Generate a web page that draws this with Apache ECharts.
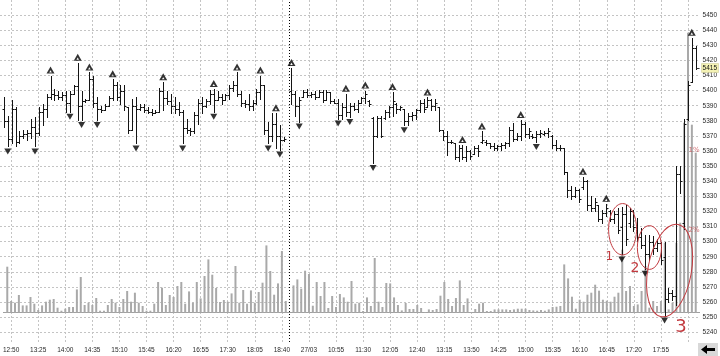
<!DOCTYPE html>
<html><head><meta charset="utf-8">
<script src="https://cdn.jsdelivr.net/npm/echarts/dist/echarts.min.js"></script>
<style>html,body{margin:0;padding:0;background:#fff;}#c{width:720px;height:356px;}</style>
</head><body><div id="c"></div>
<script>
// ---- categories (5-minute bars, two sessions) ----
const day1Times = ['12:45','12:50','12:55','13:00','13:05','13:10','13:15','13:20','13:25','13:30','13:35','13:40','13:45','13:50','13:55','14:00','14:05','14:10','14:15','14:20','14:25','14:30','14:35','14:40','14:45','14:50','14:55','15:00','15:05','15:10','15:15','15:20','15:25','15:30','15:35','15:40','15:45','15:50','15:55','16:00','16:05','16:10','16:15','16:20','16:25','16:30','16:35','16:40','16:45','16:50','16:55','17:00','17:05','17:10','17:15','17:20','17:25','17:30','17:35','17:40','17:45','17:50','17:55','18:00','18:05','18:10','18:15','18:20','18:25','18:30','18:35','18:40','18:45'];
const day2Times = ['10:00','10:05','10:10','10:15','10:20','10:25','10:30','10:35','10:40','10:45','10:50','10:55','11:00','11:05','11:10','11:15','11:20','11:25','11:30','11:35','11:40','11:45','11:50','11:55','12:00','12:05','12:10','12:15','12:20','12:25','12:30','12:35','12:40','12:45','12:50','12:55','13:00','13:05','13:10','13:15','13:20','13:25','13:30','13:35','13:40','13:45','13:50','13:55','14:00','14:05','14:10','14:15','14:20','14:25','14:30','14:35','14:40','14:45','14:50','14:55','15:00','15:05','15:10','15:15','15:20','15:25','15:30','15:35','15:40','15:45','15:50','15:55','16:00','16:05','16:10','16:15','16:20','16:25','16:30','16:35','16:40','16:45','16:50','16:55','17:00','17:05','17:10','17:15','17:20','17:25','17:30','17:35','17:40','17:45','17:50','17:55','18:00','18:05','18:10','18:15','18:20','18:25','18:30','18:35','18:40','18:45'];
const tickLabels = ['12:50','13:25','14:00','14:35','15:10','15:45','16:20','16:55','17:30','18:05','18:40','27/03','10:55','11:30','12:05','12:40','13:15','13:50','14:25','15:00','15:35','16:10','16:45','17:20','17:55'];
const priceTicks = {min: 5230, max: 5460, step: 10};

// ---- bar values (bar 73 is the overnight gap) ----
const opens = [5388,5380,5368,5388,5366,5370,5371,5372,5376,5372,5386,5388,5396,5398,5397,5396,5397,5392,5398,5403,5390,5393,5394,5408,5392,5388,5387,5390,5395,5404,5396,5400,5389,5374,5390,5388,5389,5387,5386,5385,5386,5400,5395,5393,5390,5388,5386,5375,5374,5373,5384,5392,5390,5393,5398,5394,5396,5394,5397,5402,5404,5398,5392,5391,5390,5392,5399,5404,5374,5370,5378,5370,5367,null,
5400,5398,5390,5396,5399,5397,5398,5396,5399,5394,5399,5393,5392,5384,5389,5386,5390,5388,5392,5395,5393,5382,5370,5382,5382,5386,5389,5391,5388,5388,5380,5383,5384,5387,5392,5389,5394,5390,5389,5374,5370,5366,5365,5356,5362,5356,5360,5358,5362,5366,5366,5365,5363,5362,5363,5364,5365,5374,5368,5370,5378,5371,5370,5369,5371,5371,5372,5370,5364,5362,5362,5346,5334,5330,5334,5336,5340,5324,5322,5324,5315,5319,5320,5315,5318,5310,5318,5312,5320,5310,5303,5298,5292,5300,5296,5299,5290,5262,5266,5264,5345,5312,5381,5406,5428];
const highs = [5396,5383,5393.5,5389,5373,5374,5374,5381.5,5382.5,5389,5391,5398,5410,5401,5400,5399,5400,5400,5404,5418.5,5400,5394.5,5412,5410,5395.5,5390,5391,5396.5,5407.5,5405.5,5404,5404,5389,5394.5,5395.5,5391,5391,5389,5388,5387,5402,5405.5,5400,5398,5395.5,5392.5,5387,5381.5,5375,5386,5394.5,5395.5,5394.5,5400.5,5401,5400,5398,5398,5404,5406.5,5412,5400,5393.5,5398,5393.5,5401,5410,5404,5379.5,5385,5385,5377,5369.5,null,
5415,5400,5395.5,5400.5,5401,5399,5400,5400.5,5400.5,5400.5,5399,5394.5,5394.5,5391.5,5398,5391.5,5391.5,5393.5,5395.5,5400,5393.5,5382.5,5383.5,5383.5,5387,5390,5399,5391.5,5390,5388,5385,5386,5388,5393.5,5394.5,5395.5,5394.5,5394.5,5389,5374,5373,5367.5,5365,5364,5364,5363,5361,5363,5364,5373,5367.5,5365,5365,5364,5365,5366,5376,5378.5,5372,5380.5,5379.5,5375,5371.5,5373,5374,5373,5375,5370.5,5367.5,5364,5362,5346,5337,5336,5335,5343,5341,5330,5329,5324.5,5321,5325,5321,5320,5322,5323,5324,5322,5321,5315.5,5309,5304.5,5304.5,5303.5,5301.5,5299.5,5300,5269,5268,5350,5350,5381.5,5406.5,5435,5429.5];
const lows = [5376,5363,5365,5363,5365,5368.5,5367.5,5368.5,5363,5370.5,5377,5382.5,5394.5,5393.5,5394.5,5393.5,5386,5386,5398,5380.5,5380.5,5392.5,5393.5,5389,5380.5,5386,5387,5390,5393.5,5393.5,5391,5387,5372,5374,5365,5387,5386,5385,5384,5385,5386,5387,5391,5385,5385,5384,5365,5372,5370.5,5372,5378,5385,5389,5391,5386,5393.5,5391,5393.5,5394.5,5400,5396.5,5390,5389,5387,5387,5391,5394.5,5371.5,5365,5366.5,5362,5361,5366.5,null,
5391,5383,5379.5,5395.5,5395.5,5395.5,5394.5,5395.5,5392.5,5394,5391.5,5391.5,5381.5,5381.5,5383.5,5382.5,5387,5386,5391.5,5391.5,5390,5352,5369.5,5369.5,5381.5,5382.5,5383.5,5385,5387,5377,5377,5380.5,5381.5,5386,5386,5389,5387,5387,5373,5367.5,5357.5,5365,5354.5,5353.5,5354.5,5353.5,5354.5,5358,5356.5,5365,5364,5362,5361,5361,5361,5362,5363,5366.5,5367.5,5367.5,5369.5,5368.5,5368.5,5366,5369.5,5370.5,5369.5,5362,5361,5361,5344.5,5329.5,5328.5,5329.5,5326,5335,5321,5320,5320,5313.5,5312.5,5317,5313.5,5312.5,5306,5291.5,5298,5310,5307,5300.5,5296,5282,5287.5,5291.5,5294,5285,5251,5260,5261.5,5258,5332,5308.5,5380.5,5405.5,5414];
const closes = [5380,5368,5388,5366,5370,5371,5372,5376,5372,5386,5388,5396,5398,5397,5396,5397,5392,5398,5403,5390,5393,5394,5408,5392,5388,5387,5390,5395,5404,5396,5400,5390,5374,5390,5388,5389,5387,5386,5385,5386,5400,5395,5393,5390,5388,5386,5375,5374,5373,5384,5392,5390,5393,5398,5394,5396,5394,5397,5402,5404,5398,5392,5391,5390,5392,5399,5404,5374,5370,5378,5370,5367,5368,null,
5398,5390,5394,5399,5397,5398,5396,5399,5394,5399,5393,5392,5384,5389,5386,5390,5388,5392,5395,5398,5391,5370,5382,5370,5386,5389,5393,5388,5389,5380,5383,5384,5387,5392,5388,5394,5390,5392,5374,5370,5366,5366,5356,5362,5356,5360,5357,5362,5360,5367,5365,5363,5362,5363,5364,5365,5374,5368,5370,5378,5371,5373,5369,5371,5372,5372,5373,5364,5362,5362,5346,5334,5330,5334,5328,5340,5324,5322,5326,5315,5319,5322,5315,5318,5308,5318,5302,5320,5310,5303,5298,5292,5300,5296,5299,5288,5262,5266,5264,5345,5340,5378,5404,5428,5415];
const volumes = [460,117,100,177,73,73,157,90,27,73,110,130,137,50,20,40,57,57,233,357,77,100,77,147,20,20,77,137,100,57,137,217,110,200,100,67,20,20,90,307,250,77,177,157,267,307,90,213,100,307,143,367,533,380,247,107,127,110,193,467,100,227,90,223,100,207,300,673,417,180,293,617,117,null,
273,333,240,420,387,70,307,167,307,47,167,57,187,153,110,317,90,100,17,153,67,547,110,57,297,293,153,77,23,97,37,37,77,47,7,33,27,37,170,307,137,67,147,323,77,143,7,37,90,100,17,17,33,33,33,33,27,33,40,40,40,27,23,20,27,20,33,57,60,67,483,343,160,40,130,110,180,200,280,220,130,120,110,160,200,630,217,267,67,83,217,467,50,117,67,117,700,33,100,700,900,1900,2800,1880,1600];
const upFractals = [12,19,22,28,41,54,60,66,70,74,88,93,100,109,118,123,133,149,155,177];
const downFractals = [1,8,17,20,24,34,46,54,68,71,76,86,89,95,103,137,159,165,170];
const daySeparators = [74];
const lastPrice = 5415;
// hand-drawn notes: [category position, price, half width (bars), half height (points), tilt]
const noteRings = [[160.2,5308.2,3.6,17,0],[167.1,5296.1,3.1,14.5,0],[172.3,5280.8,5.6,31,-0.18]];
const noteTexts = [['1',156.8,5290],['2',163.4,5282],['3',175.2,5243],['1%',178.6,5360.6],['2%',178.6,5307.8]];

// ---- assembly ----
const categories = [''].concat(day1Times, [' '], day2Times);
const ohlc = [];
for (let i = 0; i < highs.length; i++) {
  if (highs[i] != null) ohlc.push([i + 1, opens[i], highs[i], lows[i], closes[i]]);
}
const volData = categories.map((_, k) => (k >= 1 && k - 1 < volumes.length && volumes[k - 1] != null) ? volumes[k - 1] : null);
const upMarks = upFractals.map(i => [i + 1, highs[i]]);
const downMarks = downFractals.map(i => [i + 1, lows[i]]);
const lastIdx = closes.length;

const nTicks = Math.round((priceTicks.max - priceTicks.min) / priceTicks.step) + 1;
const gridColors = [];
for (let k = 0; k < nTicks; k++) gridColors.push(k === 0 || k === nTicks - 1 ? 'rgba(0,0,0,0)' : '#c4c4c4');

const FONT = 'Liberation Sans';
const RED = '#c23a3f';

function fracX(api, v, p) {
  const b = Math.floor(v);
  const bw = api.size([1, 1])[0];
  const pt = api.coord([b, p]);
  return [pt[0] + (v - b) * bw, pt[1]];
}

const chart = echarts.init(document.getElementById('c'), null, {renderer: 'canvas', width: 720, height: 356});
chart.setOption({
  animation: false,
  backgroundColor: '#ffffff',
  grid: [
    {left: 0, right: 20.4, top: -5.33, bottom: 8.67},
    {left: 0, right: 20.4, top: 0, bottom: 14}
  ],
  xAxis: [
    {type: 'category', gridIndex: 0, data: categories, boundaryGap: false, show: false},
    {type: 'category', gridIndex: 1, data: categories, boundaryGap: false,
      axisLine: {show: true, lineStyle: {color: '#a0a0a0', width: 1}},
      axisTick: {show: false},
      axisLabel: {interval: (i) => i % 7 === 2, margin: 5, fontSize: 6.5, fontFamily: FONT, color: '#2a2a2a',
        formatter: (v, i) => { const k = (i - 2) / 7; return tickLabels[k] || ''; }},
      splitLine: {show: true, interval: (i) => i % 7 === 2, lineStyle: {color: '#c4c4c4', type: [2, 2], width: 1}}
    }
  ],
  yAxis: [
    {type: 'value', gridIndex: 0, position: 'right', min: priceTicks.min, max: priceTicks.max, interval: priceTicks.step,
      axisLine: {show: false}, axisTick: {show: false},
      axisLabel: {margin: 3, fontSize: 6.5, fontFamily: FONT, color: '#2a2a2a', showMinLabel: false, showMaxLabel: false,
        formatter: (v) => String(v)},
      splitLine: {show: true, lineStyle: {color: gridColors, type: [2, 2], width: 1}}},
    {type: 'value', gridIndex: 1, min: -293, max: 3127, show: false, splitLine: {show: false}}
  ],
  series: [
    {type: 'bar', xAxisIndex: 1, yAxisIndex: 1, data: volData, barWidth: 2, z: 1,
      itemStyle: {color: '#a9a9a9'}, silent: true,
      markLine: {silent: true, symbol: 'none', label: {show: false}, lineStyle: {color: '#000', type: [1, 2], width: 1},
        data: daySeparators.map(k => ({xAxis: k}))}},
    {type: 'custom', xAxisIndex: 0, yAxisIndex: 0, z: 4, data: ohlc, encode: {x: 0, y: [1, 2, 3, 4]},
      renderItem: function (params, api) {
        const x = api.value(0);
        const h = api.coord([x, api.value(2)]);
        const l = api.coord([x, api.value(3)]);
        const o = api.coord([x, api.value(1)]);
        const c = api.coord([x, api.value(4)]);
        const cx = Math.round(h[0]) + 0.5;
        const st = {stroke: '#141414', lineWidth: 1};
        return {type: 'group', children: [
          {type: 'line', shape: {x1: cx, y1: Math.round(h[1]), x2: cx, y2: Math.round(l[1]) + 1}, style: st},
          {type: 'line', shape: {x1: cx - 2, y1: Math.round(o[1]) + 0.5, x2: cx, y2: Math.round(o[1]) + 0.5}, style: st},
          {type: 'line', shape: {x1: cx, y1: Math.round(c[1]) + 0.5, x2: cx + 2, y2: Math.round(c[1]) + 0.5}, style: st}
        ]};
      }},
    {type: 'scatter', xAxisIndex: 0, yAxisIndex: 0, z: 5, data: upMarks,
      symbol: 'path://M5,0 L10,10 L0,10 Z M5,5.5 L3.4,8.6 L6.6,8.6 Z', symbolSize: [8, 7], symbolOffset: [0, -5.5],
      itemStyle: {color: '#000'}},
    {type: 'scatter', xAxisIndex: 0, yAxisIndex: 0, z: 5, data: downMarks,
      symbol: 'path://M0,0 L10,0 L5,9 Z', symbolSize: [7, 6], symbolOffset: [0, 5],
      itemStyle: {color: '#000'}},
    {type: 'custom', xAxisIndex: 0, yAxisIndex: 0, z: 6, data: noteRings, silent: true,
      renderItem: function (params, api) {
        const c = fracX(api, api.value(0), api.value(1));
        const bw = api.size([1, 1])[0];
        const ry = api.size([0, api.value(3) * 2])[1] / 2;
        return {type: 'ellipse', x: c[0], y: c[1], rotation: api.value(4),
          shape: {cx: 0, cy: 0, rx: api.value(2) * bw, ry: ry},
          style: {fill: 'none', stroke: RED, lineWidth: 1}};
      }},
    {type: 'custom', xAxisIndex: 0, yAxisIndex: 0, z: 6, silent: true,
      data: noteTexts.map(t => [t[1], t[2]]),
      renderItem: function (params, api) {
        const t = noteTexts[params.dataIndex];
        const c = fracX(api, t[1], t[2]);
        const big = {'1': 12, '2': 14, '3': 18};
        const fs = big[t[0]] || 7;
        return {type: 'text', x: c[0], y: c[1],
          style: {text: t[0], fill: RED, font: fs + 'px "DejaVu Sans"', textAlign: 'center', textVerticalAlign: 'middle', opacity: fs > 10 ? 1 : 0.75}};
      }},
    {type: 'custom', xAxisIndex: 0, yAxisIndex: 0, z: 7, silent: true, data: [[lastIdx, lastPrice]],
      renderItem: function (params, api) {
        const p = api.coord([api.value(0), api.value(1)]);
        const right = params.coordSys.x + params.coordSys.width;
        const y = Math.round(p[1]);
        return {type: 'group', children: [
          {type: 'line', shape: {x1: right - 3, y1: y + 0.5, x2: right, y2: y + 0.5}, style: {stroke: '#333', lineWidth: 1}},
          {type: 'rect', shape: {x: right + 2, y: y - 4.5, width: 17, height: 9}, style: {fill: '#f4f2b4', stroke: '#c8c690', lineWidth: 0.5}},
          {type: 'text', x: right + 3, y: y, style: {text: String(api.value(1)), fill: '#111', font: '6.5px "Liberation Sans"', textVerticalAlign: 'middle'}}
        ]};
      }}
  ],
  graphic: [
    {type: 'group', right: 2, bottom: 0, z: 100, children: [
      {type: 'rect', shape: {x: 0, y: 0, width: 20, height: 13}, style: {fill: '#d8d8d8'}},
      {type: 'polygon', shape: {points: [[3, 6.5], [9, 2], [9, 5], [17, 5], [17, 8], [9, 8], [9, 11]]}, style: {fill: '#000'}}
    ]}
  ]
});
</script></body></html>
